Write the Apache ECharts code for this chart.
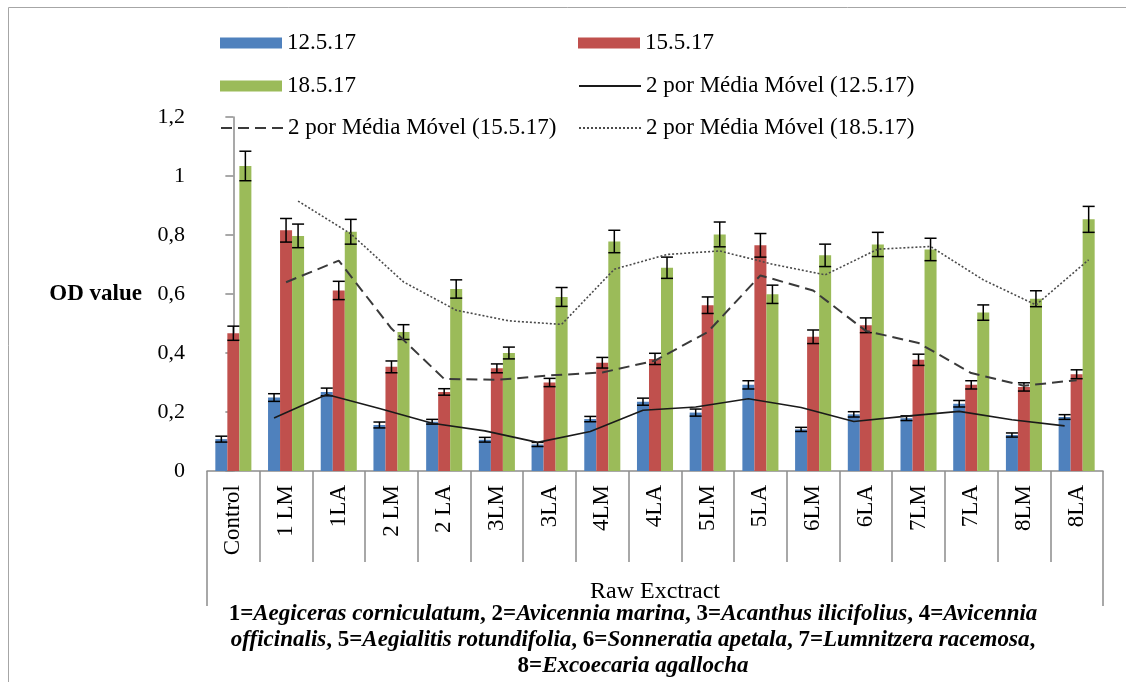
<!DOCTYPE html>
<html><head><meta charset="utf-8">
<script src="https://cdn.jsdelivr.net/npm/echarts@6/dist/echarts.min.js"></script>
<style>html,body{margin:0;padding:0;background:#fff}#main{width:1126px;height:682px}</style>
</head><body><div id="main"></div>
<script>
// ---------- data ----------
const categories = ['Control','1 LM','1LA','2 LM','2 LA','3LM','3LA','4LM','4LA','5LM','5LA','6LM','6LA','7LM','7LA','8LM','8LA'];
const yTickLabels = ['0','0,2','0,4','0,6','0,8','1','1,2'];
const barNames = ['12.5.17','15.5.17','18.5.17'];
const maNames = ['2 por Média Móvel (12.5.17)','2 por Média Móvel (15.5.17)','2 por Média Móvel (18.5.17)'];
const xTitle = 'Raw Exctract';
const yTitle = 'OD value';

const od12 = [0.108,0.249,0.268,0.156,0.167,0.106,0.090,0.176,0.235,0.198,0.292,0.141,0.192,0.179,0.228,0.122,0.183];
const od15 = [0.467,0.816,0.612,0.353,0.268,0.348,0.300,0.367,0.380,0.562,0.765,0.455,0.494,0.377,0.292,0.285,0.328];
const od18 = [1.034,0.797,0.811,0.471,0.617,0.400,0.590,0.778,0.689,0.802,0.599,0.731,0.768,0.751,0.537,0.584,0.853];

const err12 = [0.010,0.013,0.013,0.010,0.008,0.008,0.007,0.009,0.012,0.012,0.014,0.007,0.009,0.008,0.011,0.007,0.008];
const err15 = [0.024,0.040,0.031,0.020,0.011,0.015,0.014,0.018,0.019,0.028,0.040,0.023,0.025,0.019,0.014,0.014,0.015];
const err18 = [0.050,0.040,0.042,0.025,0.031,0.020,0.032,0.038,0.036,0.042,0.031,0.038,0.041,0.038,0.026,0.027,0.044];

// moving-average trend lines, categories '1 LM' .. '8LA'
const ma12 = [0.180,0.259,0.212,0.162,0.136,0.097,0.134,0.206,0.217,0.245,0.215,0.168,0.186,0.202,0.174,0.153];
const ma15 = [0.640,0.713,0.483,0.312,0.309,0.324,0.334,0.374,0.471,0.663,0.612,0.475,0.434,0.332,0.289,0.308];
const ma18 = [0.915,0.804,0.641,0.545,0.509,0.497,0.684,0.734,0.746,0.701,0.665,0.752,0.761,0.648,0.563,0.716];

// ---------- styles ----------
const FONT = '"Liberation Serif","Times New Roman",serif';
const colors = ['#4F81BD','#C0504D','#9BBB59'];
const AXIS_GRAY = '#8C8C8C';
const BAR_FRAC = 0.228;               // bar width as fraction of category
const shifts = [-BAR_FRAC, 0, BAR_FRAC];

const odData = [od12, od15, od18];
const errData = [err12, err15, err18];
const maData = [ma12, ma15, ma18];
const maStyles = [
  {color:'#1a1a1a', width:1.6, type:'solid'},
  {color:'#3a3a3a', width:2, type:[11,6]},
  {color:'#4a4a4a', width:1.6, type:[2,2]}
];

const series = [];
barNames.forEach((n,s)=>{
  series.push({
    name:n, type:'bar', xAxisIndex:0, yAxisIndex:0,
    data: odData[s], barWidth:(BAR_FRAC*100)+'%', barGap:'0%',
    itemStyle:{color:colors[s]}, z:2
  });
});
barNames.forEach((n,s)=>{
  series.push({
    name:'err'+s, type:'custom', xAxisIndex:2, yAxisIndex:0, z:4,
    data: odData[s].map((v,i)=>[i+shifts[s], v, errData[s][i]]),
    renderItem:(params, api)=>{
      const x = api.value(0), v = api.value(1), e = api.value(2);
      const top = api.coord([x, v+e]);
      const bot = api.coord([x, v-e]);
      const hw = api.size([BAR_FRAC,0])[0]/2;
      const st = {stroke:'#000', lineWidth:1.5};
      return {type:'group', children:[
        {type:'line', shape:{x1:top[0],y1:top[1],x2:bot[0],y2:bot[1]}, style:st},
        {type:'line', shape:{x1:top[0]-hw,y1:top[1],x2:top[0]+hw,y2:top[1]}, style:st},
        {type:'line', shape:{x1:bot[0]-hw,y1:bot[1],x2:bot[0]+hw,y2:bot[1]}, style:st}
      ]};
    }
  });
});
maNames.forEach((n,s)=>{
  series.push({
    name:n, type:'line', xAxisIndex:2, yAxisIndex:0, z:5,
    data: maData[s].map((v,k)=>[k+1+shifts[s], v]),
    symbol:'none', showSymbol:false, smooth:false,
    lineStyle:maStyles[s], itemStyle:{color:maStyles[s].color}
  });
});

const legendText = {fontFamily:FONT, fontSize:23, color:'#000', lineHeight:24};
const legendPos = [
  {name:barNames[0], left:220, top:31, icon:'rect'},
  {name:barNames[1], left:578, top:31, icon:'rect'},
  {name:barNames[2], left:220, top:74, icon:'rect'},
  {name:maNames[0], left:578, top:74},
  {name:maNames[1], left:220, top:116},
  {name:maNames[2], left:578, top:116}
];
const legends = legendPos.map(p=>({
  data:[p.icon ? {name:p.name, icon:p.icon} : {name:p.name, itemStyle:{opacity:0}}],
  left:p.left, top:p.top, padding:0, itemWidth:62, itemHeight:11,
  textStyle:legendText, selectedMode:false
}));

const option = {
  animation:false,
  backgroundColor:'#fff',
  graphic:[{type:'rect', silent:true, z:-10,
    shape:{x:8.5, y:7.5, width:1200, height:800},
    style:{fill:'none', stroke:'#A6A6A6', lineWidth:1}}],
  title:{
    left:633, top:601, textAlign:'center', padding:0,
    text:'{b|1=}{i|Aegiceras corniculatum}{b|, 2=}{i|Avicennia marina}{b|, 3=}{i|Acanthus ilicifolius}{b|, 4=}{i|Avicennia}\n'+
         '{i|officinalis}{b|, 5=}{i|Aegialitis rotundifolia}{b|, 6=}{i|Sonneratia apetala}{b|, 7=}{i|Lumnitzera racemosa}{b|,}\n'+
         '{b|8=}{i|Excoecaria agallocha}',
    textStyle:{rich:{
      b:{fontFamily:FONT, fontWeight:'bold', fontSize:23, lineHeight:26, color:'#000'},
      i:{fontFamily:FONT, fontWeight:'bold', fontStyle:'italic', fontSize:23, lineHeight:26, color:'#000'}
    }}
  },
  legend:legends,
  grid:{left:207, right:23, top:117, bottom:211, outerBoundsMode:'none', containLabel:false},
  xAxis:[
    {type:'category', data:categories, position:'bottom', boundaryGap:true,
     axisLine:{show:true, onZero:false, lineStyle:{color:AXIS_GRAY, width:1.5}},
     axisTick:{show:true, interval:0, alignWithLabel:false, length:91, lineStyle:{color:AXIS_GRAY, width:1.5}},
     axisLabel:{interval:0, rotate:90, margin:14, fontFamily:FONT, fontSize:23, color:'#000', hideOverlap:false},
     splitLine:{show:false}},
    {type:'category', data:[xTitle], position:'bottom', boundaryGap:true,
     axisLine:{show:false, onZero:false},
     axisTick:{show:true, interval:0, length:135, lineStyle:{color:AXIS_GRAY, width:1.5}},
     axisLabel:{interval:0, margin:109, fontFamily:FONT, fontSize:24, color:'#000'},
     splitLine:{show:false}},
    {type:'value', min:-0.5, max:16.5, show:false, position:'top', splitLine:{show:false}}
  ],
  yAxis:{
    type:'value', min:0, max:1.2, interval:0.2,
    name:yTitle, nameLocation:'middle', nameRotate:0, nameGap:65,
    nameTextStyle:{fontFamily:FONT, fontSize:23, fontWeight:'bold', color:'#000'},
    axisLine:{show:true, lineStyle:{color:AXIS_GRAY, width:1.5}},
    axisTick:{show:true, length:8, lineStyle:{color:AXIS_GRAY, width:1.5}},
    axisLabel:{margin:22, fontFamily:FONT, fontSize:22, color:'#000',
      formatter:(v,i)=>yTickLabels[i]},
    splitLine:{show:false}
  },
  series:series
};
const chart = echarts.init(document.getElementById('main'), null, {renderer:'canvas'});
chart.setOption(option);
</script>
</body></html>
